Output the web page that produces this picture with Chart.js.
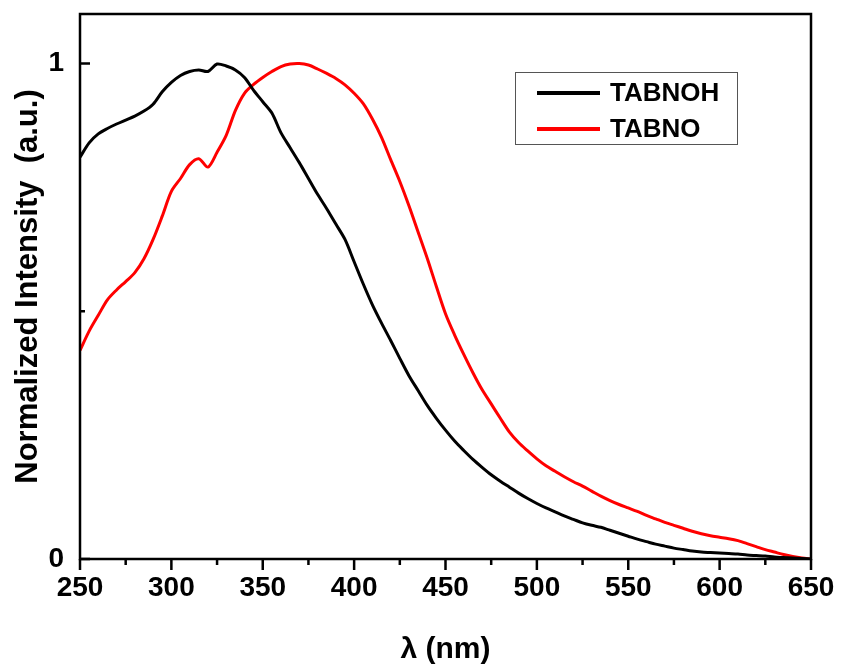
<!DOCTYPE html>
<html>
<head>
<meta charset="utf-8">
<script src="https://cdn.jsdelivr.net/npm/chart.js@4.4.1/dist/chart.umd.min.js"></script>
<style>
  html, body { margin: 0; padding: 0; background: #fff; }
  #wrap { width: 843px; height: 668px; }
</style>
</head>
<body>
<div id="wrap"><canvas id="spectra"></canvas></div>
<script>
  // wavelength grid (nm), 5 nm step
  const wavelengths = [
    250,255,260,265,270,275,280,285,290,295,300,305,310,315,320,325,330,335,340,345,
    350,355,360,365,370,375,380,385,390,395,400,405,410,415,420,425,430,435,440,445,
    450,455,460,465,470,475,480,485,490,495,500,505,510,515,520,525,530,535,540,545,
    550,555,560,565,570,575,580,585,590,595,600,605,610,615,620,625,630,635,640,645,650
  ];

  const tabnoh = [
    0.811,0.840,0.858,0.869,0.878,0.886,0.894,0.904,0.918,0.943,0.962,0.976,0.984,0.987,0.984,0.999,0.995,0.987,0.972,0.946,
    0.923,0.900,0.860,0.830,0.800,0.768,0.736,0.707,0.676,0.645,0.600,0.555,0.513,0.476,0.441,0.405,0.370,0.340,0.310,0.284,
    0.260,0.238,0.219,0.201,0.185,0.170,0.157,0.145,0.133,0.122,0.112,0.103,0.095,0.087,0.080,0.073,0.068,0.064,0.058,0.052,
    0.046,0.040,0.035,0.030,0.026,0.022,0.019,0.016,0.014,0.013,0.012,0.011,0.010,0.008,0.007,0.006,0.004,0.003,0.002,0.001,0.000
  ];

  const tabno = [
    0.421,0.460,0.492,0.523,0.543,0.560,0.578,0.606,0.645,0.692,0.742,0.768,0.796,0.808,0.791,0.821,0.855,0.905,0.940,0.958,
    0.972,0.984,0.994,0.999,1.000,0.997,0.989,0.980,0.970,0.957,0.940,0.919,0.888,0.851,0.806,0.762,0.713,0.660,0.607,0.550,
    0.495,0.452,0.413,0.376,0.342,0.313,0.284,0.256,0.235,0.218,0.202,0.188,0.177,0.166,0.156,0.147,0.137,0.127,0.118,0.110,
    0.103,0.096,0.088,0.081,0.074,0.068,0.062,0.056,0.051,0.047,0.044,0.041,0.037,0.031,0.025,0.019,0.014,0.009,0.005,0.002,0.000
  ];

  const xMajor = [250,300,350,400,450,500,550,600,650];
  const xMinor = [275,325,375,425,475,525,575,625];
  const yMajor = [0,1];
  const yMinor = [0.5];
  const seriesNames = ['TABNOH', 'TABNO'];
  const seriesColors = ['#000000', '#ff0000'];

  const FONT = 'Liberation Sans, Arial, sans-serif';

  function pts(vals) {
    return wavelengths.map((w, i) => ({x: w, y: vals[i]}));
  }

  // frame, ticks (x outward, y inward) and boxed legend
  const framePlugin = {
    id: 'frame',
    afterDraw: (chart) => {
      const {ctx, chartArea: a, scales} = chart;
      const xs = scales.x, ys = scales.y;
      ctx.save();
      ctx.strokeStyle = '#000';
      ctx.lineWidth = 2.5;
      ctx.strokeRect(a.left, a.top, a.right - a.left, a.bottom - a.top);

      ctx.lineWidth = 2.5;
      ctx.beginPath();
      xMajor.forEach(v => {
        const p = xs.getPixelForValue(v);
        ctx.moveTo(p, a.bottom); ctx.lineTo(p, a.bottom + 11);
      });
      xMinor.forEach(v => {
        const p = xs.getPixelForValue(v);
        ctx.moveTo(p, a.bottom); ctx.lineTo(p, a.bottom + 6);
      });
      yMajor.forEach(v => {
        const p = ys.getPixelForValue(v);
        ctx.moveTo(a.left, p); ctx.lineTo(a.left + 10, p);
      });
      yMinor.forEach(v => {
        const p = ys.getPixelForValue(v);
        ctx.moveTo(a.left, p); ctx.lineTo(a.left + 5, p);
      });
      ctx.stroke();

      // legend box
      const bx = 515, by = 72, bw = 222, bh = 72;
      ctx.lineWidth = 1;
      ctx.strokeStyle = '#555';
      ctx.strokeRect(bx + 0.5, by + 0.5, bw, bh);
      ctx.font = 'bold 26px ' + FONT;
      ctx.textBaseline = 'middle';
      ctx.textAlign = 'left';
      seriesNames.forEach((name, i) => {
        const yy = by + 21 + i * 36;
        ctx.strokeStyle = seriesColors[i];
        ctx.lineWidth = 4;
        ctx.beginPath();
        ctx.moveTo(bx + 22, yy); ctx.lineTo(bx + 85, yy);
        ctx.stroke();
        ctx.fillStyle = '#000';
        ctx.fillText(name, bx + 95, yy + 1);
      });
      ctx.restore();
    }
  };

  const config = {
    type: 'line',
    data: {
      datasets: [
        {
          label: seriesNames[0],
          data: pts(tabnoh),
          borderColor: seriesColors[0],
          borderWidth: 3,
          pointRadius: 0,
          tension: 0.3
        },
        {
          label: seriesNames[1],
          data: pts(tabno),
          borderColor: seriesColors[1],
          borderWidth: 3,
          pointRadius: 0,
          tension: 0.3
        }
      ]
    },
    plugins: [framePlugin],
    options: {
      responsive: true,
      maintainAspectRatio: false,
      animation: false,
      layout: { padding: { top: 14, right: 32, left: 0, bottom: 0 } },
      plugins: {
        legend: { display: false },
        tooltip: { enabled: false }
      },
      scales: {
        x: {
          type: 'linear',
          min: 250,
          max: 650,
          grid: { display: false, drawTicks: false },
          border: { display: false },
          afterFit: (s) => { s.height = 109; s.paddingLeft = 0; s.paddingRight = 0; },
          ticks: {
            stepSize: 50,
            padding: 12,
            color: '#000',
            font: { family: FONT, size: 28, weight: 'bold' }
          },
          title: {
            display: true,
            text: 'λ (nm)',
            color: '#000',
            font: { family: FONT, size: 30, weight: 'bold' },
            padding: { top: 20, bottom: 0 }
          }
        },
        y: {
          min: 0,
          max: 1.1,
          grid: { display: false, drawTicks: false },
          border: { display: false },
          afterFit: (s) => { s.width = 80; s.paddingTop = 0; s.paddingBottom = 0; },
          ticks: {
            stepSize: 0.5,
            padding: 16,
            color: '#000',
            font: { family: FONT, size: 28, weight: 'bold' },
            callback: (v) => (v === 0 || v === 1) ? String(v) : ''
          },
          title: {
            display: true,
            text: 'Normalized Intensity  (a.u.)',
            color: '#000',
            font: { family: FONT, size: 31, weight: 'bold' },
            padding: { top: 10, bottom: 0 }
          }
        }
      }
    }
  };

  const spectraChart = new Chart(document.getElementById('spectra'), config);
</script>
</body>
</html>
